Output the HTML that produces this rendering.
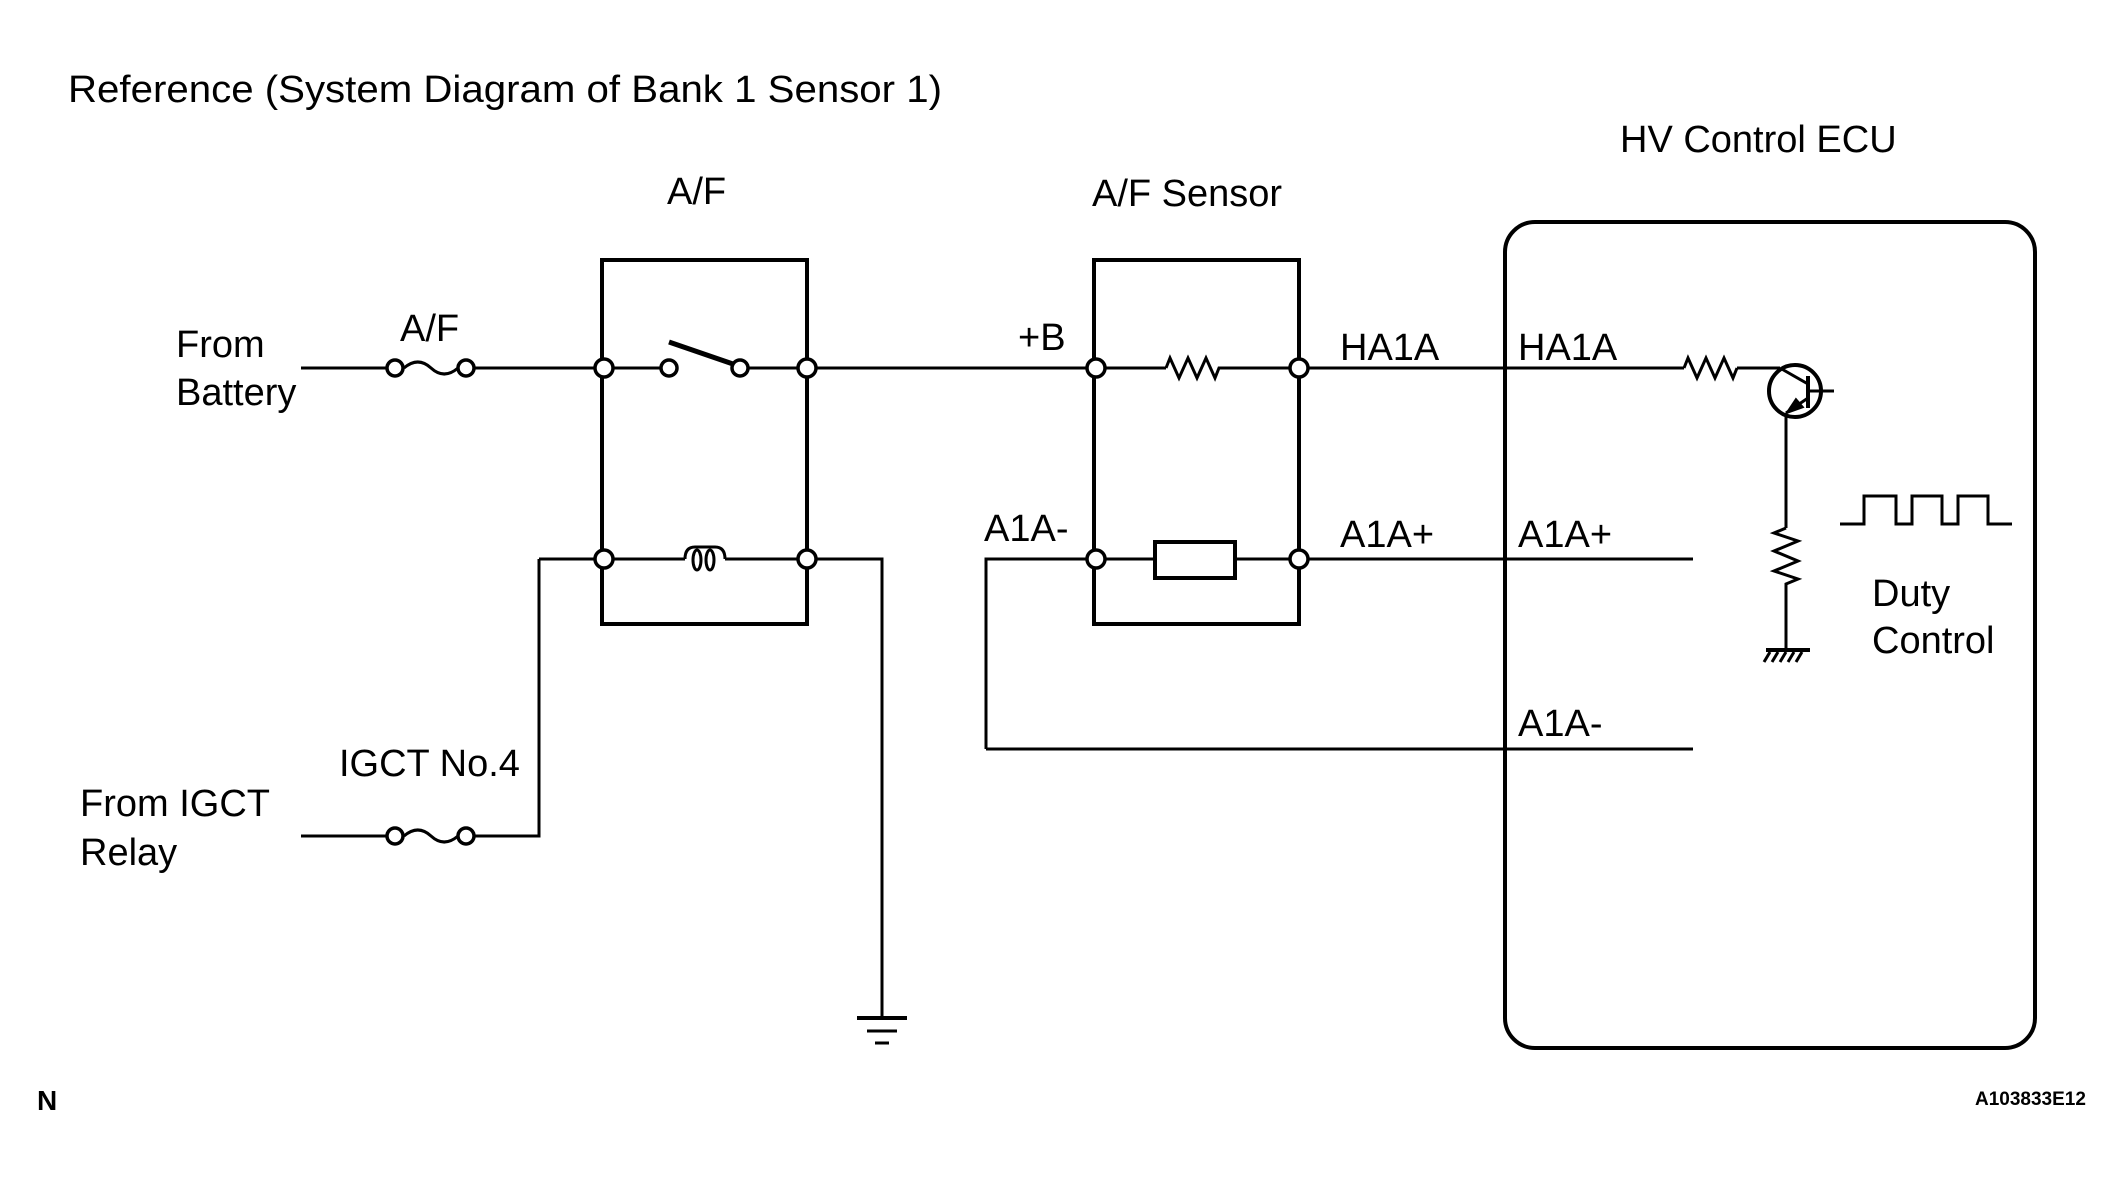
<!DOCTYPE html>
<html><head><meta charset="utf-8"><style>
html,body{margin:0;padding:0;background:#fff;}
svg{display:block;}
text{font-family:"Liberation Sans",Arial,sans-serif;fill:#000;}
</style></head><body>
<svg width="2124" height="1187" viewBox="0 0 2124 1187" xmlns="http://www.w3.org/2000/svg">
<g stroke="#000" fill="none" stroke-width="3">
<!-- relay box -->
<rect x="602" y="260" width="205" height="364" stroke-width="4"/>
<!-- sensor box -->
<rect x="1094" y="260" width="205" height="364" stroke-width="4"/>
<!-- ECU -->
<rect x="1505" y="222" width="530" height="826" rx="30" ry="30" stroke-width="4"/>

<!-- battery wire -->
<line x1="301" y1="368" x2="387" y2="368"/>
<path d="M404 368 Q418 356 431 368 Q444 380 458 368"/>
<line x1="475" y1="368" x2="660" y2="368"/>
<line x1="749" y1="368" x2="1086" y2="368"/>
<line x1="669" y1="342" x2="733" y2="364" stroke-width="5"/>

<!-- sensor top -->
<line x1="1096" y1="368" x2="1166" y2="368"/>
<polyline points="1166,368 1170,358 1179,378 1188,358 1197,378 1206,358 1215,378 1219,368 1230,368"/>
<line x1="1230" y1="368" x2="1299" y2="368"/>
<line x1="1299" y1="368" x2="1684" y2="368"/>
<polyline points="1684,368 1688,358 1697,378 1706,358 1715,378 1724,358 1733,378 1737,368"/>
<line x1="1737" y1="368" x2="1780" y2="368"/>

<!-- transistor -->
<circle cx="1795" cy="391" r="26" stroke-width="4"/>
<line x1="1808" y1="376" x2="1808" y2="408" stroke-width="4"/>
<line x1="1780" y1="368" x2="1808" y2="384"/>
<line x1="1808" y1="398" x2="1786" y2="413"/>
<polygon points="1788,412 1796,400 1802,407" fill="#000"/>
<line x1="1808" y1="391" x2="1834" y2="391"/>
<line x1="1786" y1="413" x2="1786" y2="528"/>
<polyline points="1786,528 1774,533 1798,541 1774,551 1798,561 1774,571 1798,579 1786,584 1786,650"/>
<line x1="1766" y1="650" x2="1810" y2="650" stroke-width="4"/>
<line x1="1770" y1="652" x2="1764" y2="662"/>
<line x1="1778" y1="652" x2="1772" y2="662"/>
<line x1="1786" y1="652" x2="1780" y2="662"/>
<line x1="1794" y1="652" x2="1788" y2="662"/>
<line x1="1802" y1="652" x2="1796" y2="662"/>
<!-- square wave -->
<polyline points="1840,524 1864,524 1864,496 1896,496 1896,524 1912,524 1912,496 1942,496 1942,524 1958,524 1958,496 1988,496 1988,524 2012,524" />

<!-- coil wire -->
<line x1="539" y1="559" x2="685" y2="559"/>
<path d="M685 559 Q685 547 695 547 L715 547 Q725 547 725 559"/>
<ellipse cx="697" cy="560" rx="4" ry="10"/>
<ellipse cx="710" cy="560" rx="4" ry="10"/>
<line x1="725" y1="559" x2="807" y2="559"/>
<polyline points="807,559 882,559 882,1018"/>
<line x1="857" y1="1018" x2="907" y2="1018" stroke-width="4"/>
<line x1="867" y1="1031" x2="897" y2="1031"/>
<line x1="875" y1="1043" x2="889" y2="1043"/>
<polyline points="539,559 539,836 475,836"/>
<line x1="301" y1="836" x2="387" y2="836"/>
<path d="M404 836 Q418 824 431 836 Q444 848 458 836"/>

<!-- sensor bottom -->
<polyline points="986,749 986,559 1096,559"/>
<line x1="1096" y1="559" x2="1153" y2="559"/>
<rect x="1155" y="542" width="80" height="36" stroke-width="4"/>
<line x1="1235" y1="559" x2="1693" y2="559"/>
<line x1="986" y1="749" x2="1693" y2="749"/>
</g>
<g stroke="#000" stroke-width="3.5" fill="#fff">
<circle cx="395" cy="368" r="8"/><circle cx="466" cy="368" r="8"/>
<circle cx="395" cy="836" r="8"/><circle cx="466" cy="836" r="8"/>
<circle cx="669" cy="368" r="8"/><circle cx="740" cy="368" r="8"/>
<circle cx="604" cy="368" r="9"/><circle cx="807" cy="368" r="9"/>
<circle cx="604" cy="559" r="9"/><circle cx="807" cy="559" r="9"/>
<circle cx="1096" cy="368" r="9"/><circle cx="1299" cy="368" r="9"/>
<circle cx="1096" cy="559" r="9"/><circle cx="1299" cy="559" r="9"/>
</g>
<g font-size="38">
<text x="68" y="102" textLength="874" lengthAdjust="spacingAndGlyphs">Reference (System Diagram of Bank 1 Sensor 1)</text>
<text x="667" y="204">A/F</text>
<text x="1092" y="206">A/F Sensor</text>
<text x="1620" y="152">HV Control ECU</text>
<text x="400" y="341">A/F</text>
<text x="176" y="357">From</text>
<text x="176" y="405">Battery</text>
<text x="1018" y="350">+B</text>
<text x="984" y="541">A1A-</text>
<text x="339" y="776">IGCT No.4</text>
<text x="80" y="816">From IGCT</text>
<text x="80" y="865">Relay</text>
<text x="1340" y="360">HA1A</text>
<text x="1340" y="547">A1A+</text>
<text x="1518" y="360">HA1A</text>
<text x="1518" y="547">A1A+</text>
<text x="1518" y="736">A1A-</text>
<text x="1872" y="606">Duty</text>
<text x="1872" y="653">Control</text>
</g>
<text x="37" y="1110" font-size="28" font-weight="bold">N</text>
<text x="1975" y="1105" font-size="19" font-weight="bold">A103833E12</text>
</svg>
</body></html>
